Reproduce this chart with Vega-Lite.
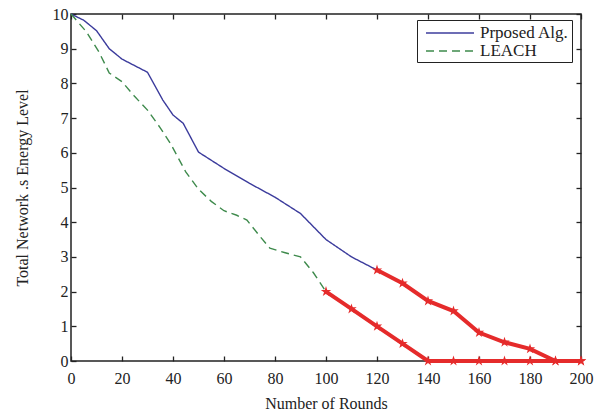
{
  "$schema": "https://vega.github.io/schema/vega-lite/v6.json",
  "autosize": "none",
  "width": 510,
  "height": 347,
  "padding": {"left": 71, "top": 14, "right": 23, "bottom": 54},
  "background": "white",
  "config": {
    "font": "Liberation Serif",
    "view": {"stroke": "#222222", "strokeWidth": 1.5},
    "axis": {
      "grid": false,
      "domain": false,
      "tickColor": "#222222",
      "tickWidth": 1.3,
      "tickSize": -5,
      "labelFont": "Liberation Serif",
      "labelFontSize": 16,
      "labelColor": "#222222",
      "titleFont": "Liberation Serif",
      "titleFontSize": 16,
      "titleFontWeight": "normal",
      "titleColor": "#222222"
    },
    "legend": {
      "labelFont": "Liberation Serif",
      "labelFontSize": 17,
      "labelColor": "#222222"
    }
  },
  "datasets": {
    "lines": [
      {"round": 0, "energy": 10, "alg": "Prposed Alg."},
      {"round": 5, "energy": 9.82, "alg": "Prposed Alg."},
      {"round": 10, "energy": 9.52, "alg": "Prposed Alg."},
      {"round": 15, "energy": 9.0, "alg": "Prposed Alg."},
      {"round": 20, "energy": 8.7, "alg": "Prposed Alg."},
      {"round": 30, "energy": 8.32, "alg": "Prposed Alg."},
      {"round": 36, "energy": 7.52, "alg": "Prposed Alg."},
      {"round": 40, "energy": 7.09, "alg": "Prposed Alg."},
      {"round": 44, "energy": 6.85, "alg": "Prposed Alg."},
      {"round": 50, "energy": 6.02, "alg": "Prposed Alg."},
      {"round": 60, "energy": 5.55, "alg": "Prposed Alg."},
      {"round": 70, "energy": 5.12, "alg": "Prposed Alg."},
      {"round": 80, "energy": 4.72, "alg": "Prposed Alg."},
      {"round": 90, "energy": 4.25, "alg": "Prposed Alg."},
      {"round": 100, "energy": 3.5, "alg": "Prposed Alg."},
      {"round": 110, "energy": 3.0, "alg": "Prposed Alg."},
      {"round": 120, "energy": 2.62, "alg": "Prposed Alg."},
      {"round": 130, "energy": 2.24, "alg": "Prposed Alg."},
      {"round": 140, "energy": 1.73, "alg": "Prposed Alg."},
      {"round": 150, "energy": 1.44, "alg": "Prposed Alg."},
      {"round": 160, "energy": 0.82, "alg": "Prposed Alg."},
      {"round": 170, "energy": 0.54, "alg": "Prposed Alg."},
      {"round": 180, "energy": 0.35, "alg": "Prposed Alg."},
      {"round": 190, "energy": 0, "alg": "Prposed Alg."},
      {"round": 200, "energy": 0, "alg": "Prposed Alg."},
      {"round": 0, "energy": 10, "alg": "LEACH"},
      {"round": 6, "energy": 9.49, "alg": "LEACH"},
      {"round": 11, "energy": 8.9, "alg": "LEACH"},
      {"round": 15, "energy": 8.3, "alg": "LEACH"},
      {"round": 20, "energy": 8.05, "alg": "LEACH"},
      {"round": 25, "energy": 7.62, "alg": "LEACH"},
      {"round": 30, "energy": 7.23, "alg": "LEACH"},
      {"round": 35, "energy": 6.72, "alg": "LEACH"},
      {"round": 39, "energy": 6.27, "alg": "LEACH"},
      {"round": 45, "energy": 5.45, "alg": "LEACH"},
      {"round": 50, "energy": 4.95, "alg": "LEACH"},
      {"round": 55, "energy": 4.6, "alg": "LEACH"},
      {"round": 60, "energy": 4.33, "alg": "LEACH"},
      {"round": 65, "energy": 4.2, "alg": "LEACH"},
      {"round": 69, "energy": 4.06, "alg": "LEACH"},
      {"round": 74, "energy": 3.6, "alg": "LEACH"},
      {"round": 78, "energy": 3.25, "alg": "LEACH"},
      {"round": 84, "energy": 3.12, "alg": "LEACH"},
      {"round": 90, "energy": 3.0, "alg": "LEACH"},
      {"round": 95, "energy": 2.55, "alg": "LEACH"},
      {"round": 100, "energy": 2.0, "alg": "LEACH"},
      {"round": 110, "energy": 1.5, "alg": "LEACH"},
      {"round": 120, "energy": 1.0, "alg": "LEACH"},
      {"round": 130, "energy": 0.5, "alg": "LEACH"},
      {"round": 140, "energy": 0, "alg": "LEACH"},
      {"round": 200, "energy": 0, "alg": "LEACH"}
    ],
    "red": [
      {"round": 120, "energy": 2.62, "alg": "Prposed Alg."},
      {"round": 130, "energy": 2.24, "alg": "Prposed Alg."},
      {"round": 140, "energy": 1.73, "alg": "Prposed Alg."},
      {"round": 150, "energy": 1.44, "alg": "Prposed Alg."},
      {"round": 160, "energy": 0.82, "alg": "Prposed Alg."},
      {"round": 170, "energy": 0.54, "alg": "Prposed Alg."},
      {"round": 180, "energy": 0.35, "alg": "Prposed Alg."},
      {"round": 190, "energy": 0, "alg": "Prposed Alg."},
      {"round": 200, "energy": 0, "alg": "Prposed Alg."},
      {"round": 100, "energy": 2.0, "alg": "LEACH"},
      {"round": 110, "energy": 1.5, "alg": "LEACH"},
      {"round": 120, "energy": 1.0, "alg": "LEACH"},
      {"round": 130, "energy": 0.5, "alg": "LEACH"},
      {"round": 140, "energy": 0, "alg": "LEACH"},
      {"round": 150, "energy": 0, "alg": "LEACH"},
      {"round": 160, "energy": 0, "alg": "LEACH"},
      {"round": 170, "energy": 0, "alg": "LEACH"},
      {"round": 180, "energy": 0, "alg": "LEACH"},
      {"round": 190, "energy": 0, "alg": "LEACH"},
      {"round": 200, "energy": 0, "alg": "LEACH"}
    ]
  },
  "layer": [
    {
      "data": {"name": "lines"},
      "mark": {"type": "line", "strokeWidth": 1.4},
      "encoding": {
        "x": {
          "field": "round", "type": "quantitative",
          "scale": {"domain": [0, 200], "nice": false},
          "axis": {"orient": "bottom", "values": [0, 20, 40, 60, 80, 100, 120, 140, 160, 180, 200], "title": "Number of Rounds", "labelPadding": 14, "titlePadding": 9, "labelFlush": false}
        },
        "y": {
          "field": "energy", "type": "quantitative",
          "scale": {"domain": [0, 10], "nice": false},
          "axis": {"orient": "left", "values": [0, 1, 2, 3, 4, 5, 6, 7, 8, 9, 10], "title": "Total Network .s Energy Level", "labelPadding": 8, "titlePadding": 22, "labelFlush": false}
        },
        "color": {
          "field": "alg", "type": "nominal",
          "scale": {"domain": ["Prposed Alg.", "LEACH"], "range": ["#3b3b9c", "#3e8a4c"]},
          "legend": {
            "title": null, "orient": "none", "legendX": 346, "legendY": 6,
            "strokeColor": "#222222", "fillColor": "white", "padding": 3,
            "symbolType": "M-0.444,0H4.889", "symbolSize": 324, "symbolStrokeWidth": 1.6,
            "labelOffset": 40, "rowPadding": 0, "labelLimit": 200
          }
        },
        "strokeDash": {
          "field": "alg", "type": "nominal",
          "scale": {"domain": ["Prposed Alg.", "LEACH"], "range": [[1, 0], [8, 5]]},
          "legend": {
            "title": null, "orient": "none", "legendX": 346, "legendY": 6,
            "strokeColor": "#222222", "fillColor": "white", "padding": 3,
            "symbolType": "M-0.444,0H4.889", "symbolSize": 324, "symbolStrokeWidth": 1.6,
            "labelOffset": 40, "rowPadding": 0, "labelLimit": 200
          }
        }
      }
    },
    {
      "data": {"name": "red"},
      "mark": {"type": "line", "color": "#e52b2b", "strokeWidth": 4},
      "encoding": {
        "x": {"field": "round", "type": "quantitative", "axis": null},
        "y": {"field": "energy", "type": "quantitative", "axis": null},
        "detail": {"field": "alg", "type": "nominal"}
      }
    },
    {
      "data": {"name": "red"},
      "mark": {"type": "point", "filled": true, "color": "#e52b2b", "opacity": 1, "size": 120,
               "shape": "M0,-1L0.2245,-0.309L0.951,-0.309L0.363,0.118L0.588,0.809L0,0.382L-0.588,0.809L-0.363,0.118L-0.951,-0.309L-0.2245,-0.309Z"},
      "encoding": {
        "x": {"field": "round", "type": "quantitative", "axis": null},
        "y": {"field": "energy", "type": "quantitative", "axis": null}
      }
    },
    {
      "data": {"name": "lines"},
      "mark": {"type": "line", "opacity": 0},
      "encoding": {
        "x": {"field": "round", "type": "quantitative",
              "axis": {"orient": "top", "values": [0, 20, 40, 60, 80, 100, 120, 140, 160, 180, 200], "labels": false, "title": null}},
        "y": {"field": "energy", "type": "quantitative",
              "axis": {"orient": "right", "values": [0, 1, 2, 3, 4, 5, 6, 7, 8, 9, 10], "labels": false, "title": null}}
      }
    }
  ],
  "resolve": {"axis": {"x": "independent", "y": "independent"}}
}
